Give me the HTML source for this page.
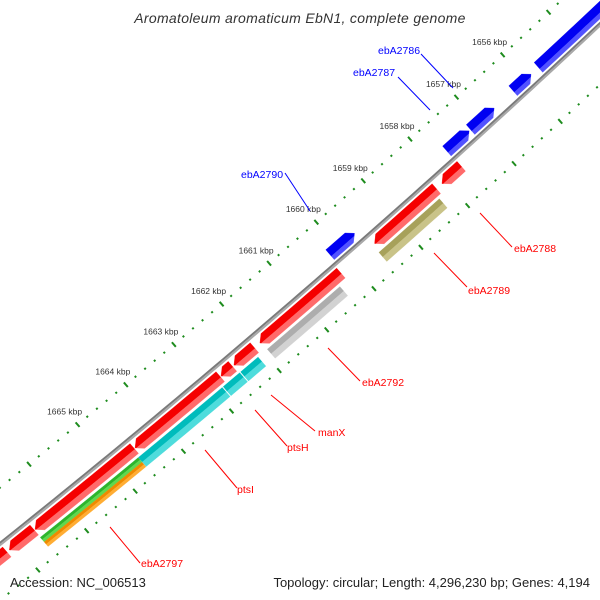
<!DOCTYPE html>
<html><head><meta charset="utf-8"><style>
html,body{margin:0;padding:0;background:#fff;}
svg{display:block;font-family:"Liberation Sans",sans-serif;}
</style></head><body>
<svg id="map" width="600" height="600" viewBox="0 0 600 600" xmlns="http://www.w3.org/2000/svg">
<text x="300" y="23" text-anchor="middle" font-size="14" font-style="italic" fill="#333" letter-spacing="0.3">Aromatoleum aromaticum EbN1, complete genome</text>
<g id="track"></g>
<g id="labels"></g>
<text x="10" y="587" font-size="13" fill="#222">Accession: NC_006513</text>
<text x="590" y="587" font-size="13" fill="#222" text-anchor="end">Topology: circular; Length: 4,296,230 bp; Genes: 4,194</text>
</svg>
<script>
// data arrays (bp)
const blueStarts = [1653900, 1655860, 1656660, 1657200, 1659655];
const blueEnds   = [1655700, 1656250, 1657170, 1657680, 1660175];
const redStarts  = [1657665, 1658200, 1660235, 1662060, 1662520, 1662775, 1664565, 1666625, 1667185];
const redEnds    = [1658080, 1659520, 1661945, 1662490, 1662760, 1664550, 1666610, 1667135, 1668140];
const ringStarts = [1658260, 1660380, 1662105, 1662490, 1662855, 1664605];
const ringEnds   = [1659570, 1661930, 1662490, 1662855, 1664620, 1666640];
const ringKinds  = ["olive", "gray", "cyan", "cyan", "cyan", "greenorange"];
const tickLabels = ["1656 kbp","1657 kbp","1658 kbp","1659 kbp","1660 kbp","1661 kbp","1662 kbp","1663 kbp","1664 kbp","1665 kbp"];
const tickLabelKbp = [1656,1657,1658,1659,1660,1661,1662,1663,1664,1665];
const geneLabels = ["ebA2786","ebA2787","ebA2790","ebA2788","ebA2789","ebA2792","manX","ptsH","ptsI","ebA2797"];
const geneLabelColors = ["blue","blue","blue","red","red","red","red","red","red","red"];

const NS = "http://www.w3.org/2000/svg";
const track = document.getElementById('track');
const labels = document.getElementById('labels');
const PX_PER_BP = 0.0626, REF_BP = 1665000, REF_U = 136.8;
function uOf(bp){ return REF_U + (REF_BP - bp) * PX_PER_BP; }
const ANG = 40.9 * Math.PI / 180, CA = Math.cos(ANG), SA = Math.sin(ANG);
const CHORD = 795, BULGE = 8;
function P(u, v){
  const t = u / CHORD;
  const vv = v + 4 * BULGE * t * (1 - t);
  return [u*CA + vv*SA, 544 - u*SA + vv*CA];
}
function mk(tag, attrs, parent){
  const e = document.createElementNS(NS, tag);
  for (const k in attrs) e.setAttribute(k, attrs[k]);
  parent.appendChild(e); return e;
}
function pts(list){ return list.map(p => P(p[0], p[1]).map(n => n.toFixed(2)).join(',')).join(' '); }
// polygon for a strip [a,b] of a feature body (v1..v2) with head dir
function stripPoly(u1, u2, v1, v2, dir, a, b){
  const half = (v2 - v1) / 2, vm = (v1 + v2) / 2;
  const h = dir === 0 ? 0 : Math.min(7, (u2 - u1) * 0.5);
  const hr = v => dir > 0 ? u2 - h * Math.abs(v - vm) / half : u2;
  const hl = v => dir < 0 ? u1 + h * Math.abs(v - vm) / half : u1;
  const out = [];
  const step = 6;
  // top edge at v=a from left to right
  for (let u = hl(a); u < hr(a); u += step) out.push([u, a]);
  out.push([hr(a), a]);
  if (dir > 0 && a < vm && b > vm) out.push([u2, vm]);
  out.push([hr(b), b]);
  for (let u = hr(b) - step; u > hl(b); u -= step) out.push([u, b]);
  out.push([hl(b), b]);
  if (dir < 0 && a < vm && b > vm) out.push([u1, vm]);
  return out;
}
function feature(u1, u2, v1, v2, dir, strips, name){
  const g = mk('g', {}, track);
  
  
  strips.forEach(s => {
    mk('polygon', {points: pts(stripPoly(u1, u2, v1, v2, dir, s[0], s[1])), fill: s[2], stroke: s[2], 'stroke-width': 0.3}, g);
  });
}
// ticks
for (let t = 1654000; t <= 1668000; t += 200) {
  const u = uOf(t);
  const major = (t % 1000 === 0);
  [-44, 44].forEach(v0 => {
    const a = P(u, v0 - (major ? 3 : 1)), b = P(u, v0 + (major ? 3 : 1));
    const el = mk('line', {x1:a[0], y1:a[1], x2:b[0], y2:b[1], stroke:'#1e8c1e', 'stroke-width':2}, track);
    
    
  });
}
// backbone
const bbg = mk('g', {}, track);


[[-1, '#7a7a7a'], [1, '#a8a8a8']].forEach(d => {
  const line = [];
  for (let u = -40; u <= 860; u += 10) line.push([u, d[0]]);
  mk('polyline', {points: pts(line), fill:'none', stroke:d[1], 'stroke-width':2}, bbg);
});
// blue forward features
blueStarts.forEach((s, i) => {
  feature(uOf(blueEnds[i]), uOf(s), -17, -4, 1, [[-17, -8.5, '#0000f2'], [-8.5, -4, '#5252ff']], 'forward-gene');
});
// red reverse features
redStarts.forEach((s, i) => {
  feature(uOf(redEnds[i]), uOf(s), 4, 17, -1, [[4, 11.5, '#f50000'], [11.5, 17, '#ff6a6a']], 'reverse-gene');
});
// third ring
ringStarts.forEach((s, i) => {
  const u1 = uOf(ringEnds[i]) + 0.6, u2 = uOf(s) - 0.6;
  const k = ringKinds[i];
  if (k === 'greenorange') {
    feature(u1, u2, 20, 26, 0, [[20, 23, '#2db52d'], [23, 26, '#5fd84f']], 'green-feature');
    feature(u1, u2, 26, 32, 0, [[26, 29, '#ee8a00'], [29, 32, '#ffad33']], 'orange-feature');
  } else if (k === 'olive') {
    feature(u1, u2, 20, 32, 0, [[20, 26, '#a7a15a'], [26, 32, '#c9c388']], 'olive-feature');
  } else if (k === 'gray') {
    feature(u1, u2, 20, 32, 0, [[20, 26, '#adadad'], [26, 32, '#d2d2d2']], 'gray-feature');
  } else {
    feature(u1, u2, 20, 32, 0, [[20, 26, '#00bcbc'], [26, 32, '#4edcdc']], 'cyan-feature');
  }
});
// kbp labels
tickLabels.forEach((txt, i) => {
  const u = uOf(tickLabelKbp[i] * 1000);
  const p = P(u, -44);
  const el = mk('text', {x: p[0] - 13, y: p[1] - 10, 'font-size': 8.5, fill:'#333', 'text-anchor':'middle'}, labels);
  el.textContent = txt;
  
  
});
// gene labels with leader lines
const labelPos = [[378,54],[353,76],[241,178],[514,252],[468,294],[362,386],[318,436],[287,451],[237,493],[141,567]];
const leaderLines = [[421,54,453,88],[398,77,430,110],[285,173,310,211],[480,213,512,247],[434,253,467,287],[328,348,360,381],[271,395,315,431],[255,410,287,446],[205,450,237,488],[110,527,140,563]];
geneLabels.forEach((txt, i) => {
  const c = geneLabelColors[i] === 'blue' ? '#0000ff' : '#ff0000';
  const L = leaderLines[i];
  const ln = mk('line', {x1:L[0], y1:L[1], x2:L[2], y2:L[3], stroke:c, 'stroke-width':1}, labels);
  
  
  const el = mk('text', {x: labelPos[i][0], y: labelPos[i][1], 'font-size': 10.5, fill: c}, labels);
  el.textContent = txt;
  
  
});
</script>
</body></html>
